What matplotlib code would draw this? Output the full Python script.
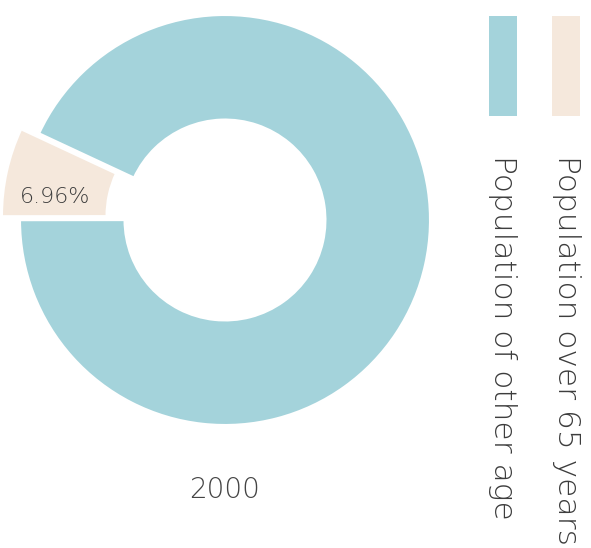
import matplotlib.pyplot as plt
from matplotlib.patches import Rectangle

plt.rcParams['font.family'] = ['DejaVu Sans']

# population share in 2000 (%)
labels = ['Population over 65 years', 'Population of other age']
shares = [6.96, 93.04]
colors = ['#f5e8dc', '#a4d3db']
year = '2000'

fig = plt.figure(figsize=(5.91, 5.48), dpi=100)
W, H = 591, 548

# donut: centre (225, 220) px, outer radius 205 px
cx, cy, R = 225, 220, 205
lim = 1.15
ax = fig.add_axes([(cx - lim * R) / W, (H - cy - lim * R) / H,
                   2 * lim * R / W, 2 * lim * R / H])
wedges, _ = ax.pie(shares, colors=colors, startangle=155, counterclock=True,
                   radius=1.0, explode=[0.09, 0],
                   wedgeprops=dict(width=0.51, edgecolor='white', linewidth=1.5))
for w in wedges:
    w.set_clip_on(False)
ax.set_xlim(-lim, lim)
ax.set_ylim(-lim, lim)
ax.set_aspect('equal')
ax.axis('off')

# percentage label sitting in the small wedge
ax.text(-0.83, 0.11, f'{shares[0]:.2f}%', ha='center', va='center',
        fontsize=16, color='#3c3c3c', fontweight='light')

# year under the ring
fig.text(cx / W, 1 - 490 / H, year, ha='center', va='center',
         fontsize=20, color='#444444', fontweight='light')

# legend: vertical swatches with rotated labels
legend_x = [566, 503]
for lab, col, x in zip(labels, colors, legend_x):
    fig.patches.append(Rectangle(((x - 14) / W, 1 - 116 / H), 28 / W, 100 / H,
                                 transform=fig.transFigure, facecolor=col,
                                 edgecolor='none'))
    fig.text(x / W, 1 - 155 / H, lab, rotation=-90, rotation_mode='anchor',
             ha='left', va='center', fontsize=22.5, color='#3c3c3c',
             fontweight='light')

fig.savefig('out.png', dpi=100)
